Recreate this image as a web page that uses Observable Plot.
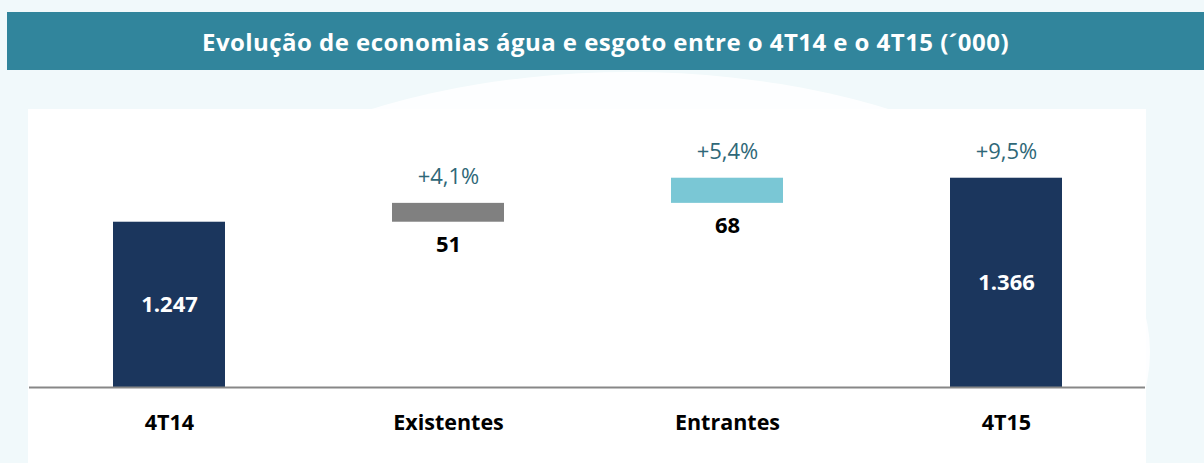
<!DOCTYPE html>
<html>
<head>
<meta charset="utf-8">
<script src="https://cdn.jsdelivr.net/npm/d3@7"></script>
<script src="https://cdn.jsdelivr.net/npm/@observablehq/plot@0.6"></script>
<style>
  html, body { margin: 0; padding: 0; }
  body {
    width: 1204px; height: 463px; overflow: hidden; position: relative;
    background: #f1f9fb;
    font-family: "Open Sans", sans-serif;
  }
  #swoosh {
    position: absolute; left: 110px; top: 72px; width: 1040px; height: 560px;
    border-radius: 50%; background: #ffffff; opacity: 0.85;
  }
  #title {
    position: absolute; left: 7px; top: 12px; width: 1197px; height: 58px;
    background: #31859c; color: #fff; font-weight: 700; font-size: 24px; letter-spacing: 0.45px;
    display: flex; align-items: center; justify-content: center;
  }
  #panel {
    position: absolute; left: 28px; top: 109px; width: 1118px; height: 354px; background: #fff;
  }
  #chart { position: absolute; left: 0; top: 0; }
</style>
</head>
<body>
<div id="swoosh"></div>
<div id="title">Evolução de economias água e esgoto entre o 4T14 e o 4T15 (´000)</div>
<div id="panel"></div>
<div id="chart"></div>
<script>
const categories = ["4T14", "Existentes", "Entrantes", "4T15"];
const values = [1247, 51, 68, 1366];
const kinds = ["total", "delta", "delta", "total"];
const valueLabels = ["1.247", "51", "68", "1.366"];
const pctLabels = ["", "+4,1%", "+5,4%", "+9,5%"];
const barColors = ["#1b365d", "#808080", "#7ac7d5", "#1b365d"];
const axisMin = 800;
const axisMax = 1600;

let running = 0;
const rows = categories.map((c, i) => {
  let start, end;
  if (kinds[i] === "total") { start = axisMin; end = values[i]; running = values[i]; }
  else { start = running; end = running + values[i]; running = end; }
  return { cat: c, start, end, kind: kinds[i], label: valueLabels[i], pct: pctLabels[i], color: barColors[i] };
});
const totals = rows.filter(d => d.kind === "total");
const deltas = rows.filter(d => d.kind === "delta");

const chart = Plot.plot({
  width: 1204,
  height: 463,
  marginLeft: 29,
  marginRight: 59,
  marginTop: 91.2,
  marginBottom: 76,
  style: { background: "transparent", fontFamily: "Open Sans, sans-serif", overflow: "visible" },
  x: { domain: categories, paddingInner: 0.6, paddingOuter: 0.3, label: null },
  y: { domain: [axisMin, axisMax], axis: null },
  marks: [
    Plot.barY(rows, { x: "cat", y1: "start", y2: "end", fill: "color" }),
    Plot.ruleY([axisMin], { stroke: "#878787", strokeWidth: 2 }),
    Plot.axisX({ tickSize: 0, tickPadding: 27, fontSize: 21.5, fontWeight: 700, fill: "#000", label: null }),
    Plot.text(totals, { x: "cat", y: d => (d.start + d.end) / 2, text: "label", fill: "#fff", fontSize: 22, fontWeight: 700, lineAnchor: "middle" }),
    Plot.text(deltas, { x: "cat", y: "start", text: "label", fill: "#000", fontSize: 22, fontWeight: 700, lineAnchor: "middle", dy: 23 }),
    Plot.text(rows.filter(d => d.pct), { x: "cat", y: "end", text: "pct", fill: "#2f6878", fontSize: 22, fontWeight: 400, lineAnchor: "middle", dy: -26 })
  ]
});
document.getElementById("chart").appendChild(chart);
</script>
</body>
</html>
